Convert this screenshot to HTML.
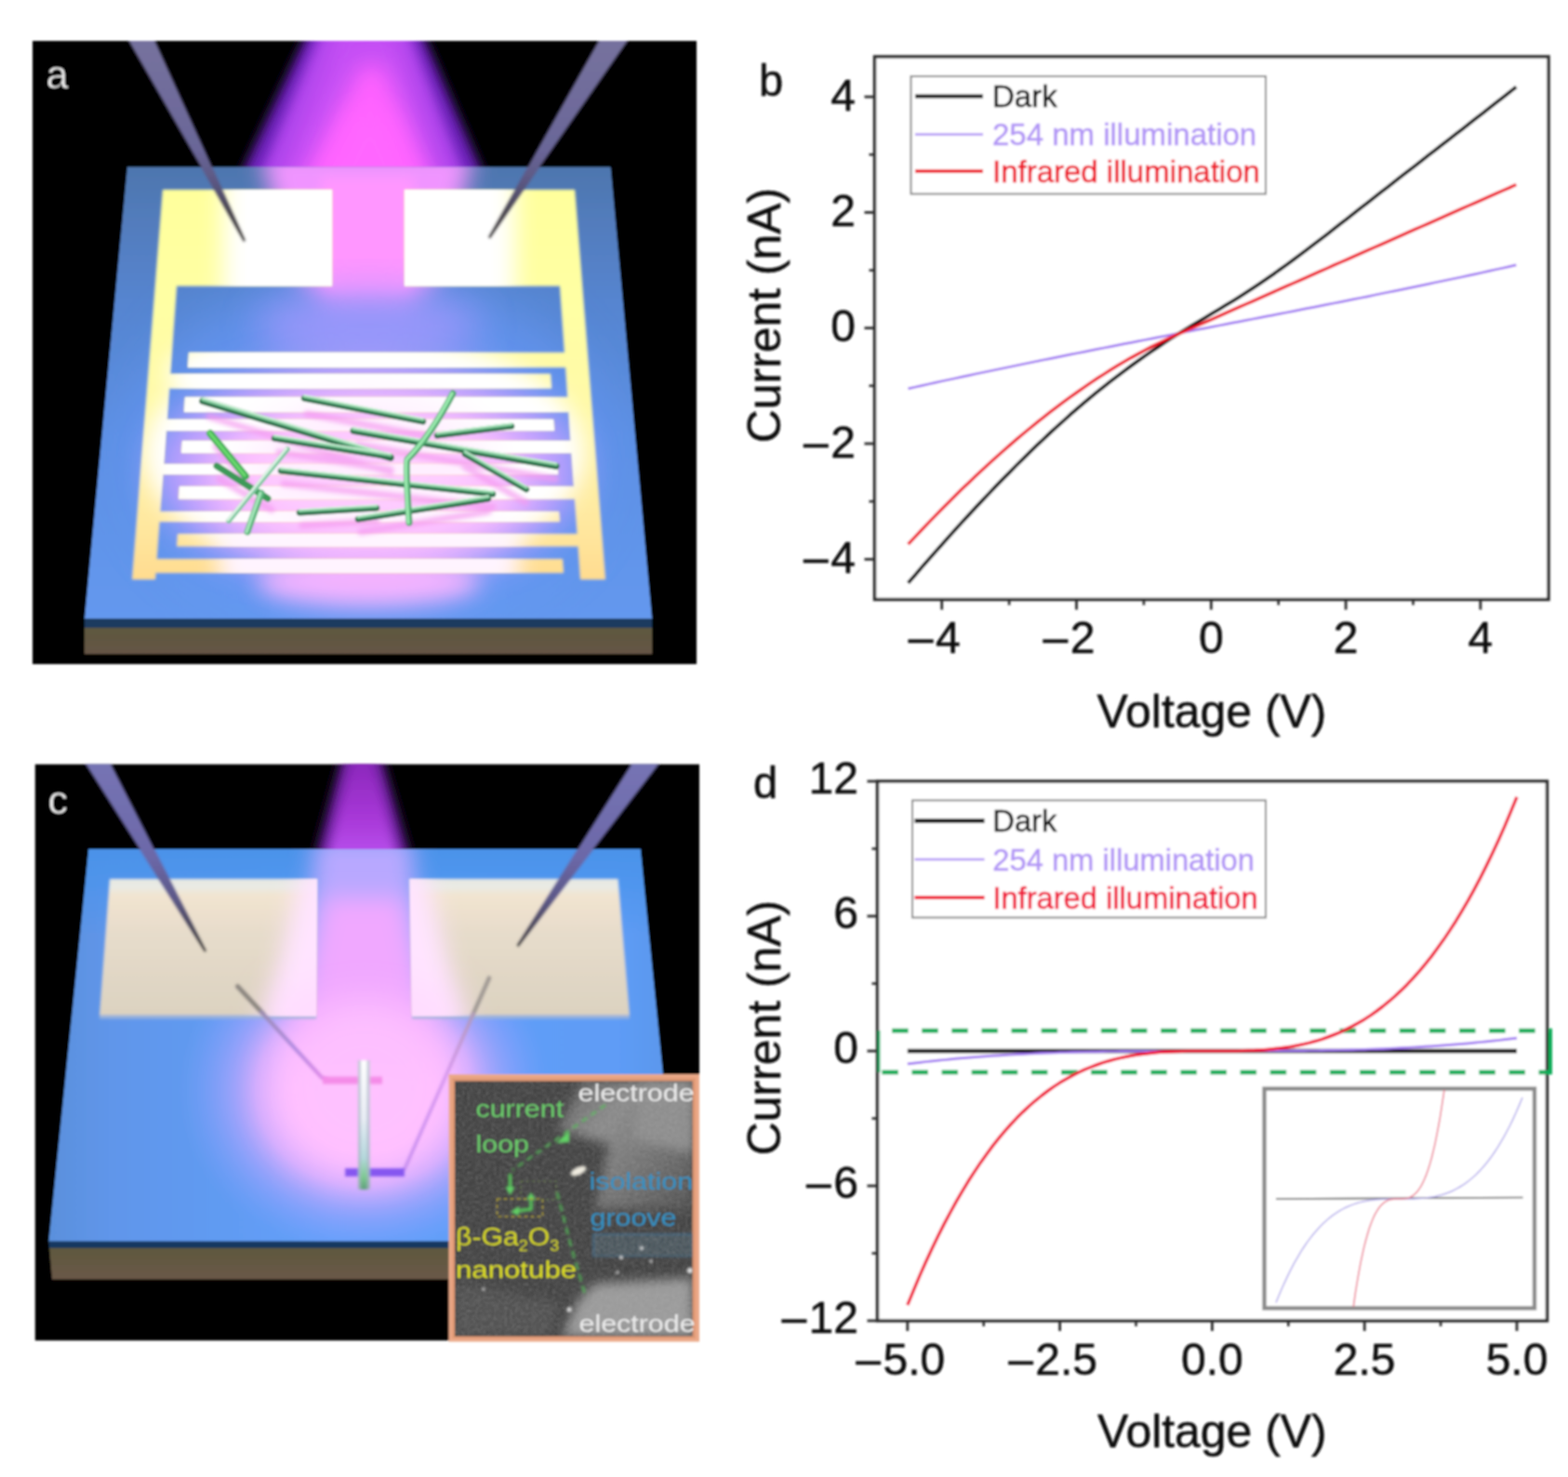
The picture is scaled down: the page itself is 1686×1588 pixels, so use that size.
<!DOCTYPE html>
<html lang="en"><head><meta charset="utf-8"><title>Figure</title>
<style>html,body{margin:0;padding:0;background:#fff;}svg{display:block;}text{font-family:"Liberation Sans", sans-serif;}</style>
</head><body>
<svg width="1686" height="1588" viewBox="0 0 1686 1588">
<defs>
<filter id="soft" x="-2%" y="-2%" width="104%" height="104%"><feGaussianBlur stdDeviation="1.1"/></filter>
<filter id="b2" x="-10%" y="-10%" width="120%" height="120%"><feGaussianBlur stdDeviation="2"/></filter>
<filter id="b1" x="-10%" y="-10%" width="120%" height="120%"><feGaussianBlur stdDeviation="1"/></filter>
<filter id="b6" x="-20%" y="-20%" width="140%" height="140%"><feGaussianBlur stdDeviation="6"/></filter>
<filter id="b12" x="-30%" y="-30%" width="160%" height="160%"><feGaussianBlur stdDeviation="12"/></filter>
<filter id="b20" x="-40%" y="-40%" width="180%" height="180%"><feGaussianBlur stdDeviation="20"/></filter>
<filter id="b30" x="-50%" y="-50%" width="200%" height="200%"><feGaussianBlur stdDeviation="30"/></filter>
<clipPath id="clipA"><rect x="35" y="44" width="714" height="670"/></clipPath>
<clipPath id="clipC"><rect x="37.5" y="821.5" width="714.5" height="620"/></clipPath>
<clipPath id="slabA"><polygon points="137,179.5 656.5,179.5 701,665 91,665"/></clipPath>
<clipPath id="slabC"><polygon points="95.5,913 688.5,913 731,1334.5 52.5,1334.5"/></clipPath>
<linearGradient id="slabAg" gradientUnits="userSpaceOnUse" x1="0" y1="179" x2="0" y2="665">
  <stop offset="0" stop-color="#4e76ae"/><stop offset="0.12" stop-color="#527cbc"/><stop offset="0.3" stop-color="#5685d0"/><stop offset="0.6" stop-color="#5d90e4"/><stop offset="1" stop-color="#6498ee"/>
</linearGradient>
<linearGradient id="slabAtop" gradientUnits="userSpaceOnUse" x1="91" y1="0" x2="701" y2="0">
  <stop offset="0" stop-color="#6a9cff" stop-opacity="0"/><stop offset="0.3" stop-color="#6a9cff" stop-opacity="0.5"/><stop offset="0.5" stop-color="#6a9cff" stop-opacity="0.6"/><stop offset="0.7" stop-color="#6a9cff" stop-opacity="0.5"/><stop offset="1" stop-color="#6a9cff" stop-opacity="0"/>
</linearGradient>
<linearGradient id="elecA" gradientUnits="userSpaceOnUse" x1="140" y1="0" x2="652" y2="0">
  <stop offset="0" stop-color="#ffe9a0"/><stop offset="0.07" stop-color="#ffffa4"/><stop offset="0.15" stop-color="#ffffb8"/><stop offset="0.24" stop-color="#ffffff"/>
  <stop offset="0.72" stop-color="#ffffff"/><stop offset="0.82" stop-color="#ffffb4"/><stop offset="0.92" stop-color="#ffffa0"/><stop offset="1" stop-color="#ffe48c"/>
</linearGradient>
<linearGradient id="fingA" gradientUnits="userSpaceOnUse" x1="140" y1="0" x2="652" y2="0">
  <stop offset="0" stop-color="#ffe9a0"/><stop offset="0.08" stop-color="#ffffc0"/><stop offset="0.14" stop-color="#ffffff"/>
  <stop offset="0.8" stop-color="#ffffff"/><stop offset="0.9" stop-color="#fffcc0"/><stop offset="1" stop-color="#ffe890"/>
</linearGradient>
<linearGradient id="barfade" gradientUnits="userSpaceOnUse" x1="0" y1="300" x2="0" y2="625">
  <stop offset="0" stop-color="#ffffa0" stop-opacity="0"/><stop offset="0.5" stop-color="#fff7b0" stop-opacity="0.3"/><stop offset="1" stop-color="#ffd98c" stop-opacity="0.9"/>
</linearGradient>
<linearGradient id="beamA" gradientUnits="userSpaceOnUse" x1="0" y1="44" x2="0" y2="200">
  <stop offset="0" stop-color="#c24cf0"/><stop offset="0.5" stop-color="#f45cff"/><stop offset="1" stop-color="#ff66ff"/>
</linearGradient>
<linearGradient id="probe" x1="0" y1="0" x2="0" y2="1">
  <stop offset="0" stop-color="#7a76b4"/><stop offset="0.55" stop-color="#6a66a0"/><stop offset="0.8" stop-color="#55506c"/><stop offset="1" stop-color="#3a3636"/>
</linearGradient>
<linearGradient id="brownA" x1="0" y1="0" x2="0" y2="1">
  <stop offset="0" stop-color="#5a5a3c"/><stop offset="1" stop-color="#665546"/>
</linearGradient>
<radialGradient id="glowPink" cx="0.5" cy="0.5" r="0.5">
  <stop offset="0" stop-color="#ffb0ff" stop-opacity="1"/><stop offset="0.45" stop-color="#f6a4ff" stop-opacity="0.9"/><stop offset="0.75" stop-color="#c89cff" stop-opacity="0.55"/><stop offset="1" stop-color="#8c96ff" stop-opacity="0"/>
</radialGradient>
<radialGradient id="glowWhite" cx="0.5" cy="0.5" r="0.5">
  <stop offset="0" stop-color="#ffffff" stop-opacity="1"/><stop offset="0.5" stop-color="#ffe8ff" stop-opacity="0.9"/><stop offset="1" stop-color="#ffc0ff" stop-opacity="0"/>
</radialGradient>
<linearGradient id="elecV" gradientUnits="userSpaceOnUse" x1="0" y1="204" x2="0" y2="623">
  <stop offset="0" stop-color="#ffff9c"/><stop offset="0.3" stop-color="#ffffa4"/><stop offset="0.6" stop-color="#fff8a8"/><stop offset="0.85" stop-color="#ffe8a0"/><stop offset="1" stop-color="#ffdc90"/>
</linearGradient>
<linearGradient id="probeA" gradientUnits="userSpaceOnUse" x1="0" y1="44" x2="0" y2="258">
  <stop offset="0" stop-color="#76729e"/><stop offset="0.55" stop-color="#6a6698"/><stop offset="0.72" stop-color="#5a5680"/><stop offset="0.85" stop-color="#4a4650"/><stop offset="1" stop-color="#3c3a38"/>
</linearGradient>
</defs>

<rect x="0" y="0" width="1686" height="1588" fill="#ffffff"/>
<g filter="url(#soft)">
<g id="panel-a" clip-path="url(#clipA)">
<rect x="35" y="44" width="714" height="670" fill="#000"/>
<polygon points="338,20 447,20 529,210 249,210" fill="#6a22b8" filter="url(#b6)"/>
<polygon points="352,20 433,20 508,210 270,210" fill="#a840e8" filter="url(#b6)"/>
<polygon points="362,20 424,20 488,210 292,210" fill="#c450f4" filter="url(#b12)"/>
<polygon points="388,70 412,70 470,210 318,210" fill="#ff62ff" filter="url(#b12)"/>
<polygon points="380,120 416,120 456,210 336,210" fill="#ff66ff" filter="url(#b12)"/>
<polygon points="91,665 701,665 701,703 91,703" fill="url(#brownA)"/>
<polygon points="91,664 701,664 701,675 91,675" fill="#1c3a5e"/>
<polygon points="137,179.5 656.5,179.5 701,665 91,665" fill="url(#slabAg)"/>
<g clip-path="url(#slabA)">
<ellipse cx="396" cy="480" rx="250" ry="190" fill="#6a9cff" opacity="0.55" filter="url(#b30)"/>
<polygon points="280,160 510,160 500,205 470,300 440,330 352,330 322,300 290,205" fill="#f094ff" filter="url(#b12)"/>
<polygon points="345,190 445,190 440,312 350,312" fill="#ff96ff" filter="url(#b6)"/>
<ellipse cx="396" cy="350" rx="120" ry="40" fill="#a898ff" opacity="0.75" filter="url(#b20)"/>
<ellipse cx="396" cy="505" rx="230" ry="120" fill="#c8a0ff" opacity="0.9" filter="url(#b20)"/>
<ellipse cx="396" cy="515" rx="175" ry="95" fill="#ffc0ff" opacity="0.95" filter="url(#b20)"/>
<ellipse cx="396" cy="510" rx="120" ry="60" fill="#ffd4ff" opacity="0.7" filter="url(#b20)"/>
<ellipse cx="396" cy="626" rx="120" ry="26" fill="#f8b4ff" opacity="0.95" filter="url(#b12)"/>
</g>
<clipPath id="elecClip"><polygon points="175,204 357,204 357,307.5 190.0,307.5 167.0,623 142.0,623"/><polygon points="435,204 618,204 651.0,623 624.0,623 602.0,307.5 435,307.5"/><polygon points="203.0,379.0 609.0,379.0 610.1,395.0 202.0,395.0"/><polygon points="199.0,427.0 612.3,427.0 613.4,443.0 198.0,443.0"/><polygon points="196.0,474.0 615.6,474.0 616.5,487.0 195.0,487.0"/><polygon points="193.0,523.0 619.0,523.0 620.0,536.5 192.0,536.5"/><polygon points="191.0,574.0 622.6,574.0 623.5,587.5 190.0,587.5"/><polygon points="181.1,402.0 592.0,402.0 593.0,417.5 180.0,417.5"/><polygon points="177.6,451.0 595.0,451.0 596.0,463.0 176.7,463.0"/><polygon points="174.1,499.0 599.0,499.0 600.0,510.0 173.3,510.0"/><polygon points="170.3,550.0 601.0,550.0 602.0,561.0 169.5,561.0"/><polygon points="166.6,601.0 605.0,601.0 606.0,616.0 165.5,616.0"/></clipPath>
<g filter="url(#b1)">
<polygon points="175,204 357,204 357,307.5 190.0,307.5 167.0,623 142.0,623" fill="url(#elecV)"/>
<polygon points="435,204 618,204 651.0,623 624.0,623 602.0,307.5 435,307.5" fill="url(#elecV)"/>
<polygon points="203.0,379.0 609.0,379.0 610.1,395.0 202.0,395.0" fill="url(#elecV)"/>
<polygon points="199.0,427.0 612.3,427.0 613.4,443.0 198.0,443.0" fill="url(#elecV)"/>
<polygon points="196.0,474.0 615.6,474.0 616.5,487.0 195.0,487.0" fill="url(#elecV)"/>
<polygon points="193.0,523.0 619.0,523.0 620.0,536.5 192.0,536.5" fill="url(#elecV)"/>
<polygon points="191.0,574.0 622.6,574.0 623.5,587.5 190.0,587.5" fill="url(#elecV)"/>
<polygon points="181.1,402.0 592.0,402.0 593.0,417.5 180.0,417.5" fill="url(#elecV)"/>
<polygon points="177.6,451.0 595.0,451.0 596.0,463.0 176.7,463.0" fill="url(#elecV)"/>
<polygon points="174.1,499.0 599.0,499.0 600.0,510.0 173.3,510.0" fill="url(#elecV)"/>
<polygon points="170.3,550.0 601.0,550.0 602.0,561.0 169.5,561.0" fill="url(#elecV)"/>
<polygon points="166.6,601.0 605.0,601.0 606.0,616.0 165.5,616.0" fill="url(#elecV)"/>
</g>
<g clip-path="url(#elecClip)">
<rect x="240" y="150" width="314" height="200" fill="#ffffff" filter="url(#b12)"/>
<ellipse cx="392" cy="488" rx="236" ry="128" fill="#ffffff" filter="url(#b12)"/>
<ellipse cx="290" cy="400" rx="110" ry="40" fill="#ffffff" filter="url(#b12)"/>
<ellipse cx="396" cy="500" rx="130" ry="75" fill="#ffdcff" opacity="0.45" filter="url(#b20)"/>
<rect x="236" y="566" width="322" height="70" fill="#fff4ff" filter="url(#b12)"/>
</g>
<g stroke="#f49af0" stroke-width="7" stroke-linecap="round" opacity="0.7" filter="url(#b2)">
<line x1="225" y1="448" x2="420" y2="508"/>
<line x1="330" y1="445" x2="455" y2="468"/>
<line x1="385" y1="478" x2="597" y2="515"/>
<line x1="300" y1="486" x2="420" y2="505"/>
<line x1="305" y1="520" x2="530" y2="545"/>
<line x1="325" y1="565" x2="405" y2="560"/>
<line x1="388" y1="572" x2="525" y2="550"/>
<line x1="500" y1="502" x2="565" y2="540"/>
<line x1="232" y1="480" x2="270" y2="525"/>
<line x1="236" y1="515" x2="292" y2="548"/>
</g>
<g stroke-linecap="round">
<line x1="218" y1="431.2" x2="420" y2="492.2" stroke="#2c6e4a" stroke-width="7.5"/>
<line x1="218" y1="429.2" x2="420" y2="490.2" stroke="#7cc898" stroke-width="4.1"/>
<line x1="218" y1="428.0" x2="420" y2="489.0" stroke="#d8f8e0" stroke-width="1.6"/>
<line x1="327" y1="428.2" x2="455" y2="453.2" stroke="#2c6e4a" stroke-width="6.5"/>
<line x1="327" y1="426.2" x2="455" y2="451.2" stroke="#7cc898" stroke-width="3.6"/>
<line x1="327" y1="425.0" x2="455" y2="450.0" stroke="#d8f8e0" stroke-width="1.4"/>
<line x1="380" y1="463.2" x2="598" y2="501.2" stroke="#2c6e4a" stroke-width="7.0"/>
<line x1="380" y1="461.2" x2="598" y2="499.2" stroke="#7cc898" stroke-width="3.9"/>
<line x1="380" y1="460.0" x2="598" y2="498.0" stroke="#d8f8e0" stroke-width="1.5"/>
<line x1="295" y1="471.2" x2="420" y2="491.2" stroke="#2c6e4a" stroke-width="6.5"/>
<line x1="295" y1="469.2" x2="420" y2="489.2" stroke="#7cc898" stroke-width="3.6"/>
<line x1="295" y1="468.0" x2="420" y2="488.0" stroke="#d8f8e0" stroke-width="1.4"/>
<line x1="470" y1="468.2" x2="550" y2="458.2" stroke="#2c6e4a" stroke-width="6.5"/>
<line x1="470" y1="466.2" x2="550" y2="456.2" stroke="#7cc898" stroke-width="3.6"/>
<line x1="470" y1="465.0" x2="550" y2="455.0" stroke="#d8f8e0" stroke-width="1.4"/>
<line x1="302" y1="506.2" x2="530" y2="531.2" stroke="#2c6e4a" stroke-width="6.5"/>
<line x1="302" y1="504.2" x2="530" y2="529.2" stroke="#7cc898" stroke-width="3.6"/>
<line x1="302" y1="503.0" x2="530" y2="528.0" stroke="#d8f8e0" stroke-width="1.4"/>
<line x1="322" y1="551.2" x2="405" y2="546.2" stroke="#2c6e4a" stroke-width="6.5"/>
<line x1="322" y1="549.2" x2="405" y2="544.2" stroke="#7cc898" stroke-width="3.6"/>
<line x1="322" y1="548.0" x2="405" y2="543.0" stroke="#d8f8e0" stroke-width="1.4"/>
<line x1="385" y1="558.2" x2="525" y2="536.2" stroke="#2c6e4a" stroke-width="6.5"/>
<line x1="385" y1="556.2" x2="525" y2="534.2" stroke="#7cc898" stroke-width="3.6"/>
<line x1="385" y1="555.0" x2="525" y2="533.0" stroke="#d8f8e0" stroke-width="1.4"/>
<line x1="500" y1="488.2" x2="566" y2="526.2" stroke="#2c6e4a" stroke-width="6.5"/>
<line x1="500" y1="486.2" x2="566" y2="524.2" stroke="#7cc898" stroke-width="3.6"/>
<line x1="500" y1="485.0" x2="566" y2="523.0" stroke="#d8f8e0" stroke-width="1.4"/>
<path d="M487 423 Q462 470 438 494 Q436 500 440 562" fill="none" stroke="#4fa870" stroke-width="7"/>
<path d="M486 423 Q461 470 437 494 Q435 500 439 562" fill="none" stroke="#9aeaae" stroke-width="3.5"/>
<line x1="226" y1="466" x2="264" y2="512" stroke="#3fae55" stroke-width="8"/>
<line x1="225" y1="465" x2="263" y2="511" stroke="#6ad86e" stroke-width="3.5"/>
<line x1="233" y1="501" x2="288" y2="536" stroke="#3c9a58" stroke-width="7"/>
<line x1="309" y1="483" x2="246" y2="560" stroke="#7fc8a0" stroke-width="5.5"/>
<line x1="308" y1="482" x2="245" y2="559" stroke="#dff5e6" stroke-width="2.5"/>
<line x1="281" y1="530" x2="266" y2="572" stroke="#58b47a" stroke-width="7"/>
<line x1="280" y1="530" x2="265" y2="572" stroke="#a8e8bc" stroke-width="3"/>
</g>
<polygon points="135,38 164,38 264,258.5 262,260" fill="url(#probeA)" filter="url(#b1)"/>
<polygon points="647,38 679,38 527,256.5 525,255" fill="url(#probeA)" filter="url(#b1)"/>
<text x="49.5" y="95" font-size="43" fill="#f0f0f0" stroke="#000" stroke-width="0.7">a</text>
</g>
<defs>
<linearGradient id="slabCg" gradientUnits="userSpaceOnUse" x1="52" y1="0" x2="731" y2="0">
  <stop offset="0" stop-color="#5a90dc"/><stop offset="0.1" stop-color="#6096ea"/><stop offset="0.45" stop-color="#63a0fa"/><stop offset="0.9" stop-color="#5e9cf6"/><stop offset="1" stop-color="#5a96ea"/>
</linearGradient>
<linearGradient id="slabCtop" gradientUnits="userSpaceOnUse" x1="0" y1="913" x2="0" y2="1010">
  <stop offset="0" stop-color="#4a92e8" stop-opacity="0.95"/><stop offset="0.4" stop-color="#4a94ec" stop-opacity="0.7"/><stop offset="1" stop-color="#4f96f0" stop-opacity="0"/>
</linearGradient>
<linearGradient id="padC" x1="0" y1="0" x2="0" y2="1">
  <stop offset="0" stop-color="#e6e8e2"/><stop offset="0.06" stop-color="#e9eae4"/><stop offset="0.12" stop-color="#f2e4d0"/><stop offset="0.4" stop-color="#e6dccb"/><stop offset="1" stop-color="#dcd2c0"/>
</linearGradient>
<linearGradient id="brownC" x1="0" y1="0" x2="0" y2="1">
  <stop offset="0" stop-color="#5c5a3c"/><stop offset="1" stop-color="#6a5848"/>
</linearGradient>
<linearGradient id="beamC" gradientUnits="userSpaceOnUse" x1="0" y1="821" x2="0" y2="920">
  <stop offset="0" stop-color="#8c28bc"/><stop offset="0.6" stop-color="#a838d8"/><stop offset="1" stop-color="#b850ec"/>
</linearGradient>
<linearGradient id="tubeC" gradientUnits="userSpaceOnUse" x1="0" y1="1140" x2="0" y2="1280">
  <stop offset="0" stop-color="#ffffff"/><stop offset="0.45" stop-color="#e8ecf4"/><stop offset="0.75" stop-color="#b4d8dc"/><stop offset="0.9" stop-color="#7cc890"/><stop offset="1" stop-color="#5a9a78"/>
</linearGradient>
<linearGradient id="semTR" gradientUnits="userSpaceOnUse" x1="600" y1="1163" x2="744" y2="1290">
  <stop offset="0" stop-color="#5a5a5a"/><stop offset="0.35" stop-color="#8a8a8a"/><stop offset="0.7" stop-color="#6c6c6c"/><stop offset="1" stop-color="#505050"/>
</linearGradient>
<filter id="noise" x="0" y="0" width="100%" height="100%">
  <feTurbulence type="fractalNoise" baseFrequency="0.35" numOctaves="2" seed="3" result="n"/>
  <feColorMatrix in="n" type="matrix" values="0 0 0 0 0.5  0 0 0 0 0.5  0 0 0 0 0.5  0.9 0.9 0 0 -0.62" result="m"/>
  <feComposite in="m" in2="SourceGraphic" operator="in"/>
</filter>
<clipPath id="semclip"><rect x="489" y="1162.5" width="255.5" height="274"/></clipPath>
<linearGradient id="wireL" gradientUnits="userSpaceOnUse" x1="281" y1="1088" x2="350" y2="1160"><stop offset="0" stop-color="#9a8cb0"/><stop offset="0.5" stop-color="#b08ae0"/><stop offset="1" stop-color="#e08ae8"/></linearGradient>
<linearGradient id="wireR" gradientUnits="userSpaceOnUse" x1="509" y1="1090" x2="435" y2="1257"><stop offset="0" stop-color="#b09ab8"/><stop offset="0.4" stop-color="#d898f0"/><stop offset="1" stop-color="#c890f0"/></linearGradient>
<radialGradient id="glowC" cx="0.5" cy="0.5" r="0.5"><stop offset="0" stop-color="#ffc2ff" stop-opacity="1"/><stop offset="0.38" stop-color="#fcb6ff" stop-opacity="1"/><stop offset="0.58" stop-color="#e0acff" stop-opacity="0.85"/><stop offset="0.78" stop-color="#a8a4ff" stop-opacity="0.5"/><stop offset="1" stop-color="#7ca0ff" stop-opacity="0"/></radialGradient>
<linearGradient id="probeC" gradientUnits="userSpaceOnUse" x1="0" y1="821" x2="0" y2="1022"><stop offset="0" stop-color="#7674b4"/><stop offset="0.5" stop-color="#6c68a8"/><stop offset="0.72" stop-color="#5c5888"/><stop offset="0.88" stop-color="#4a4658"/><stop offset="1" stop-color="#3a3834"/></linearGradient>
</defs>
<g id="panel-c" clip-path="url(#clipC)">
<rect x="37.5" y="821.5" width="714.5" height="620" fill="#000"/>
<polygon points="372,800 406,800 442,925 338,925" fill="#641a94" filter="url(#b6)"/>
<polygon points="380,800 398,800 430,925 350,925" fill="url(#beamC)" filter="url(#b6)"/>
<polygon points="52.5,1334 731,1334 731,1375.5 56,1375.5" fill="url(#brownC)"/>
<polygon points="52.5,1333.5 731,1333.5 731,1341.8 53,1341.8" fill="#163860"/>
<polygon points="95.5,913 688.5,913 731,1334.5 52.5,1334.5" fill="url(#slabCg)"/>
<g clip-path="url(#slabC)">
<rect x="40" y="913" width="700" height="90" fill="url(#slabCtop)"/>
<ellipse cx="392" cy="1172" rx="200" ry="178" fill="url(#glowC)"/>
<polygon points="340,900 442,900 458,1080 322,1080" fill="#b8a8ff" filter="url(#b12)"/>
<polygon points="350,965 432,965 470,1150 312,1150" fill="#f0a8ff" filter="url(#b12)"/>
<ellipse cx="392" cy="1170" rx="100" ry="95" fill="#ffc2ff" opacity="0.9" filter="url(#b20)"/>
</g>
<g filter="url(#b1)">
<polygon points="118,945 341,945 340,1092.5 107,1092.5" fill="url(#padC)"/>
<polygon points="440.5,945 664.5,945 677,1092.5 443,1092.5" fill="url(#padC)"/>
<polygon points="107,1091 340,1091 340,1095.5 107,1095.5" fill="#9fb4d8" opacity="0.8"/>
<polygon points="443,1091 677,1091 677,1095.5 443,1095.5" fill="#9fb4d8" opacity="0.8"/>
</g>
<clipPath id="padsC"><polygon points="118,945 341,945 340,1092.5 107,1092.5"/><polygon points="440.5,945 664.5,945 677,1092.5 443,1092.5"/></clipPath>
<g clip-path="url(#padsC)">
<polygon points="326,930 456,930 500,1110 282,1110" fill="#ffe4ff" filter="url(#b12)"/>
<ellipse cx="392" cy="1095" rx="100" ry="45" fill="#ffdcff" filter="url(#b20)"/>
</g>
<g fill="none" stroke-linecap="round" filter="url(#b1)">
<path d="M255.5 1060.5 L283 1090" stroke="#8c8680" stroke-width="5"/>
<path d="M281 1088 L346 1158.5 L352 1161" stroke="url(#wireL)" stroke-width="4.2"/>
<path d="M526 1051.5 L508 1092" stroke="#a09a94" stroke-width="4.6"/>
<path d="M509 1090 L435 1257" stroke="url(#wireR)" stroke-width="3.8"/>
</g>
<g filter="url(#b1)">
<rect x="347" y="1157.5" width="64" height="8" fill="#f48ce8"/>
<rect x="371" y="1256" width="64" height="9" fill="#8656f0"/>
<rect x="385" y="1140" width="12.5" height="139" rx="3" fill="url(#tubeC)"/>
<rect x="385" y="1140" width="3" height="139" fill="#a8b4c4" opacity="0.7"/>
<rect x="394.5" y="1140" width="3" height="139" fill="#a8b4c4" opacity="0.7"/>
</g>
<polygon points="88,815 116,815 222,1022.5 220,1023.5" fill="url(#probeC)" filter="url(#b1)"/>
<polygon points="683,815 713.5,815 557.5,1018 555.5,1016.5" fill="url(#probeC)" filter="url(#b1)"/>
<text x="51.5" y="875.3" font-size="43" fill="#f0f0f0" stroke="#000" stroke-width="0.7">c</text>
</g>
<g id="sem-inset">
<rect x="482.5" y="1155" width="269.5" height="287.5" fill="#eba988"/>
<rect x="486" y="1159" width="262" height="280" fill="#d98f68" opacity="0.6"/>
<rect x="489" y="1162.5" width="255.5" height="274" fill="#3e3e3e"/>
<g clip-path="url(#semclip)">
<polygon points="625,1163 745,1163 745,1300 640,1300 655,1230 600,1215" fill="url(#semTR)" filter="url(#b6)"/>
<polygon points="690,1163 745,1163 745,1240 680,1225" fill="#8c8c8c" filter="url(#b6)"/>
<polygon points="638,1327 745,1327 745,1351 638,1351" fill="#46525a" stroke="#3a6a8a" stroke-width="1.5" filter="url(#b1)"/>
<polygon points="636,1352 745,1352 745,1375 650,1375" fill="#3c3c3c" filter="url(#b2)"/>
<polygon points="640,1380 745,1374 745,1437 604,1437 622,1398" fill="#9a9a9a" filter="url(#b6)"/>
<polygon points="489,1380 600,1400 590,1437 489,1437" fill="#4e4e4e" filter="url(#b6)"/>
<rect x="489" y="1162.5" width="255.5" height="274" fill="#fff" filter="url(#noise)" opacity="0.4"/>
<ellipse cx="622" cy="1259" rx="9" ry="4" transform="rotate(-25 622 1259)" fill="#f0ece0" filter="url(#b1)"/>
<g fill="#e8e8e8" filter="url(#b1)"><circle cx="668" cy="1352" r="2"/><circle cx="700" cy="1356" r="1.6"/><circle cx="664" cy="1368" r="1.6"/><circle cx="690" cy="1342" r="2"/><circle cx="742" cy="1366" r="3"/><circle cx="520" cy="1386" r="1.5"/><circle cx="612" cy="1408" r="2.5"/></g>
<g fill="none" stroke="#56c45a" stroke-width="2.4" filter="url(#b1)">
<path d="M651 1188 L551 1258" stroke-dasharray="7 5" opacity="0.8"/>
<path d="M599 1282 L614 1340 L630 1395" stroke-dasharray="8 5" opacity="0.85"/>
<path d="M548.5 1262 L548.5 1278" stroke-width="3.4"/>
<path d="M571 1288 L571 1300 L556 1302" stroke-width="3.4"/>
</g>
<g fill="#62d466" filter="url(#b1)"><polygon points="598,1229 612,1216 612,1228"/><polygon points="543.5,1276 553.5,1276 548.5,1285"/><polygon points="566,1290 576,1290 571,1282"/><polygon points="558,1297 558,1307 549,1303"/></g>
<rect x="534.5" y="1289" width="49" height="19" fill="none" stroke="#b0a030" stroke-width="1.4" stroke-dasharray="4 3" opacity="0.9"/>
<rect x="560" y="1270" width="38" height="20" fill="none" stroke="#7a9a50" stroke-width="1.2" stroke-dasharray="3 3" opacity="0.6"/>
</g>
<text transform="translate(621.5,1183.5) scale(1.170,1)" font-size="26" fill="#ececec" >electrode</text>
<text transform="translate(511.5,1200.5) scale(1.170,1)" font-size="26" fill="#6ccc6c" >current</text>
<text transform="translate(511.5,1238.5) scale(1.170,1)" font-size="26" fill="#6ccc6c" >loop</text>
<text transform="translate(633.5,1279.0) scale(1.170,1)" font-size="26" fill="#3392c4" >isolation</text>
<text transform="translate(634.5,1318.0) scale(1.170,1)" font-size="26" fill="#3392c4" >groove</text>
<text transform="translate(490.0,1338.5) scale(1.120,1)" font-size="27" fill="#d6d624" >β-Ga<tspan font-size="16" dy="6">2</tspan><tspan dy="-6">O</tspan><tspan font-size="16" dy="6">3</tspan></text>
<text transform="translate(490.0,1373.5) scale(1.200,1)" font-size="26" fill="#dede20" >nanotube</text>
<text transform="translate(622.5,1432.0) scale(1.170,1)" font-size="26" fill="#ececec" >electrode</text>
</g>
<g id="plot-b">
<rect x="940.5" y="61.0" width="724.5" height="583.5" fill="#fff" stroke="#2e2e2e" stroke-width="3.5"/>
<line x1="1012.7" y1="644.5" x2="1012.7" y2="655.5" stroke="#2e2e2e" stroke-width="2.8"/>
<text transform="translate(1004.7,702.3)" font-size="48" text-anchor="middle" fill="#111111" stroke="#111111" stroke-width="0.5">–<tspan dx="2.5">4</tspan></text>
<line x1="1157.5" y1="644.5" x2="1157.5" y2="655.5" stroke="#2e2e2e" stroke-width="2.8"/>
<text transform="translate(1149.5,702.3)" font-size="48" text-anchor="middle" fill="#111111" stroke="#111111" stroke-width="0.5">–<tspan dx="2.5">2</tspan></text>
<line x1="1302.3" y1="644.5" x2="1302.3" y2="655.5" stroke="#2e2e2e" stroke-width="2.8"/>
<text transform="translate(1302.3,702.3)" font-size="48" text-anchor="middle" fill="#111111" stroke="#111111" stroke-width="0.5">0</text>
<line x1="1447.1" y1="644.5" x2="1447.1" y2="655.5" stroke="#2e2e2e" stroke-width="2.8"/>
<text transform="translate(1447.1,702.3)" font-size="48" text-anchor="middle" fill="#111111" stroke="#111111" stroke-width="0.5">2</text>
<line x1="1591.9" y1="644.5" x2="1591.9" y2="655.5" stroke="#2e2e2e" stroke-width="2.8"/>
<text transform="translate(1591.9,702.3)" font-size="48" text-anchor="middle" fill="#111111" stroke="#111111" stroke-width="0.5">4</text>
<line x1="1085.1" y1="644.5" x2="1085.1" y2="650.5" stroke="#2e2e2e" stroke-width="2.6"/>
<line x1="1229.9" y1="644.5" x2="1229.9" y2="650.5" stroke="#2e2e2e" stroke-width="2.6"/>
<line x1="1374.7" y1="644.5" x2="1374.7" y2="650.5" stroke="#2e2e2e" stroke-width="2.6"/>
<line x1="1519.5" y1="644.5" x2="1519.5" y2="650.5" stroke="#2e2e2e" stroke-width="2.6"/>
<line x1="929.5" y1="601.3" x2="940.5" y2="601.3" stroke="#2e2e2e" stroke-width="2.8"/>
<text transform="translate(920.0,615.8)" font-size="48" text-anchor="end" fill="#111111" stroke="#111111" stroke-width="0.5">–<tspan dx="2.5">4</tspan></text>
<line x1="929.5" y1="477.0" x2="940.5" y2="477.0" stroke="#2e2e2e" stroke-width="2.8"/>
<text transform="translate(920.0,491.5)" font-size="48" text-anchor="end" fill="#111111" stroke="#111111" stroke-width="0.5">–<tspan dx="2.5">2</tspan></text>
<line x1="929.5" y1="352.7" x2="940.5" y2="352.7" stroke="#2e2e2e" stroke-width="2.8"/>
<text transform="translate(920.0,367.2)" font-size="48" text-anchor="end" fill="#111111" stroke="#111111" stroke-width="0.5">0</text>
<line x1="929.5" y1="228.4" x2="940.5" y2="228.4" stroke="#2e2e2e" stroke-width="2.8"/>
<text transform="translate(920.0,242.9)" font-size="48" text-anchor="end" fill="#111111" stroke="#111111" stroke-width="0.5">2</text>
<line x1="929.5" y1="104.1" x2="940.5" y2="104.1" stroke="#2e2e2e" stroke-width="2.8"/>
<text transform="translate(920.0,118.6)" font-size="48" text-anchor="end" fill="#111111" stroke="#111111" stroke-width="0.5">4</text>
<line x1="934.5" y1="539.1" x2="940.5" y2="539.1" stroke="#2e2e2e" stroke-width="2.6"/>
<line x1="934.5" y1="414.8" x2="940.5" y2="414.8" stroke="#2e2e2e" stroke-width="2.6"/>
<line x1="934.5" y1="290.6" x2="940.5" y2="290.6" stroke="#2e2e2e" stroke-width="2.6"/>
<line x1="934.5" y1="166.2" x2="940.5" y2="166.2" stroke="#2e2e2e" stroke-width="2.6"/>
<path d="M976.5 417.9 L983.8 416.2 L991.0 414.6 L998.3 413.0 L1005.6 411.4 L1012.8 409.8 L1020.1 408.3 L1027.3 406.7 L1034.6 405.1 L1041.9 403.6 L1049.1 402.0 L1056.4 400.5 L1063.7 399.0 L1070.9 397.5 L1078.2 396.0 L1085.5 394.5 L1092.7 393.0 L1100.0 391.5 L1107.3 390.0 L1114.5 388.5 L1121.8 387.0 L1129.0 385.6 L1136.3 384.1 L1143.6 382.6 L1150.8 381.2 L1158.1 379.7 L1165.4 378.3 L1172.6 376.9 L1179.9 375.4 L1187.2 374.0 L1194.4 372.6 L1201.7 371.1 L1209.0 369.7 L1216.2 368.3 L1223.5 366.9 L1230.7 365.5 L1238.0 364.1 L1245.3 362.7 L1252.5 361.2 L1259.8 359.8 L1267.1 358.4 L1274.3 357.0 L1281.6 355.6 L1288.9 354.2 L1296.1 352.8 L1303.4 351.4 L1310.7 350.0 L1317.9 348.6 L1325.2 347.2 L1332.4 345.8 L1339.7 344.4 L1347.0 343.0 L1354.2 341.6 L1361.5 340.2 L1368.8 338.8 L1376.0 337.4 L1383.3 336.0 L1390.6 334.6 L1397.8 333.1 L1405.1 331.7 L1412.3 330.3 L1419.6 328.9 L1426.9 327.4 L1434.1 326.0 L1441.4 324.6 L1448.7 323.1 L1455.9 321.7 L1463.2 320.2 L1470.5 318.8 L1477.7 317.3 L1485.0 315.8 L1492.3 314.3 L1499.5 312.9 L1506.8 311.4 L1514.0 309.9 L1521.3 308.4 L1528.6 306.9 L1535.8 305.4 L1543.1 303.8 L1550.4 302.3 L1557.6 300.8 L1564.9 299.2 L1572.2 297.7 L1579.4 296.1 L1586.7 294.6 L1594.0 293.0 L1601.2 291.4 L1608.5 289.8 L1615.7 288.2 L1623.0 286.6 L1630.3 284.9" fill="none" stroke="#a27af2" stroke-width="2.7" stroke-linejoin="round" />
<path d="M976.5 626.8 L983.8 618.4 L991.0 610.1 L998.3 601.8 L1005.6 593.6 L1012.8 585.4 L1020.1 577.3 L1027.3 569.3 L1034.6 561.3 L1041.9 553.4 L1049.1 545.6 L1056.4 537.9 L1063.7 530.2 L1070.9 522.6 L1078.2 515.2 L1085.5 507.8 L1092.7 500.5 L1100.0 493.3 L1107.3 486.2 L1114.5 479.2 L1121.8 472.3 L1129.0 465.5 L1136.3 458.8 L1143.6 452.3 L1150.8 445.8 L1158.1 439.5 L1165.4 433.3 L1172.6 427.2 L1179.9 421.3 L1187.2 415.5 L1194.4 409.8 L1201.7 404.2 L1209.0 398.7 L1216.2 393.4 L1223.5 388.1 L1230.7 383.0 L1238.0 378.0 L1245.3 373.1 L1252.5 368.2 L1259.8 363.5 L1267.1 358.9 L1274.3 354.4 L1281.6 350.0 L1288.9 345.6 L1296.1 341.3 L1303.4 336.9 L1310.7 332.6 L1317.9 328.2 L1325.2 323.8 L1332.4 319.3 L1339.7 314.6 L1347.0 309.9 L1354.2 305.1 L1361.5 300.1 L1368.8 295.1 L1376.0 289.9 L1383.3 284.7 L1390.6 279.4 L1397.8 274.0 L1405.1 268.5 L1412.3 263.0 L1419.6 257.5 L1426.9 251.9 L1434.1 246.2 L1441.4 240.6 L1448.7 234.9 L1455.9 229.2 L1463.2 223.5 L1470.5 217.9 L1477.7 212.2 L1485.0 206.5 L1492.3 200.9 L1499.5 195.3 L1506.8 189.6 L1514.0 184.0 L1521.3 178.4 L1528.6 172.7 L1535.8 167.1 L1543.1 161.5 L1550.4 155.8 L1557.6 150.2 L1564.9 144.6 L1572.2 138.9 L1579.4 133.3 L1586.7 127.6 L1594.0 122.0 L1601.2 116.3 L1608.5 110.6 L1615.7 104.9 L1623.0 99.2 L1630.3 93.5" fill="none" stroke="#000000" stroke-width="3.8" stroke-linejoin="round" />
<path d="M976.5 585.1 L983.8 577.4 L991.0 569.7 L998.3 562.1 L1005.6 554.6 L1012.8 547.2 L1020.1 539.9 L1027.3 532.7 L1034.6 525.6 L1041.9 518.7 L1049.1 511.8 L1056.4 505.0 L1063.7 498.3 L1070.9 491.7 L1078.2 485.3 L1085.5 478.9 L1092.7 472.7 L1100.0 466.5 L1107.3 460.5 L1114.5 454.6 L1121.8 448.8 L1129.0 443.2 L1136.3 437.6 L1143.6 432.2 L1150.8 426.9 L1158.1 421.7 L1165.4 416.6 L1172.6 411.6 L1179.9 406.8 L1187.2 402.1 L1194.4 397.6 L1201.7 393.1 L1209.0 388.8 L1216.2 384.6 L1223.5 380.6 L1230.7 376.7 L1238.0 372.9 L1245.3 369.2 L1252.5 365.7 L1259.8 362.3 L1267.1 359.1 L1274.3 355.9 L1281.6 352.7 L1288.9 349.5 L1296.1 346.3 L1303.4 343.1 L1310.7 339.8 L1317.9 336.6 L1325.2 333.4 L1332.4 330.2 L1339.7 327.0 L1347.0 323.8 L1354.2 320.6 L1361.5 317.4 L1368.8 314.2 L1376.0 310.9 L1383.3 307.7 L1390.6 304.5 L1397.8 301.3 L1405.1 298.1 L1412.3 294.9 L1419.6 291.7 L1426.9 288.5 L1434.1 285.2 L1441.4 282.0 L1448.7 278.8 L1455.9 275.6 L1463.2 272.4 L1470.5 269.2 L1477.7 266.0 L1485.0 262.8 L1492.3 259.6 L1499.5 256.3 L1506.8 253.1 L1514.0 249.9 L1521.3 246.7 L1528.6 243.5 L1535.8 240.3 L1543.1 237.1 L1550.4 233.9 L1557.6 230.7 L1564.9 227.4 L1572.2 224.2 L1579.4 221.0 L1586.7 217.8 L1594.0 214.6 L1601.2 211.4 L1608.5 208.2 L1615.7 205.0 L1623.0 201.8 L1630.3 198.5" fill="none" stroke="#ee1428" stroke-width="3.5" stroke-linejoin="round" />
<rect x="979.5" y="82" width="381.5" height="126.5" fill="#fff" stroke="#808080" stroke-width="1.9"/>
<line x1="984" y1="103.5" x2="1057" y2="103.5" stroke="#000000" stroke-width="4.0"/>
<text transform="translate(1067.0,115.0) scale(1.000,1.030)" font-size="33" text-anchor="start" fill="#111111" stroke="#111111" stroke-width="0.5">Dark</text>
<line x1="984" y1="144.5" x2="1057" y2="144.5" stroke="#b296f6" stroke-width="2.6"/>
<text transform="translate(1067.0,156.0) scale(1.000,1.030)" font-size="33" text-anchor="start" fill="#b296f6" stroke="#b296f6" stroke-width="0.5">254 nm illumination</text>
<line x1="984" y1="184.0" x2="1057" y2="184.0" stroke="#ee1428" stroke-width="4.0"/>
<text transform="translate(1067.0,195.5) scale(1.000,1.030)" font-size="33" text-anchor="start" fill="#ee1428" stroke="#ee1428" stroke-width="0.5">Infrared illumination</text>
<text transform="translate(1303.0,782.0) scale(1.000,0.985)" font-size="49.9" text-anchor="middle" fill="#111111" stroke="#111111" stroke-width="0.5">Voltage (V)</text>
<text transform="translate(839.0,339.0) rotate(-90) scale(1.000,0.985)" font-size="49.9" text-anchor="middle" fill="#111111" stroke="#111111" stroke-width="0.5">Current (nA)</text>
<text transform="translate(816.0,103.0) scale(1.000,1.030)" font-size="47" text-anchor="start" fill="#111111" stroke="#111111" stroke-width="0.5">b</text>
</g>
<g id="plot-d">
<rect x="943.5" y="840.0" width="720.0" height="580.0" fill="#fff" stroke="#2e2e2e" stroke-width="3.5"/>
<line x1="975.8" y1="1420.0" x2="975.8" y2="1431.0" stroke="#2e2e2e" stroke-width="2.8"/>
<text transform="translate(968.3,1478.0)" font-size="48" text-anchor="middle" fill="#111111" stroke="#111111" stroke-width="0.5">–<tspan dx="2.5">5.0</tspan></text>
<line x1="1139.6" y1="1420.0" x2="1139.6" y2="1431.0" stroke="#2e2e2e" stroke-width="2.8"/>
<text transform="translate(1132.1,1478.0)" font-size="48" text-anchor="middle" fill="#111111" stroke="#111111" stroke-width="0.5">–<tspan dx="2.5">2.5</tspan></text>
<line x1="1303.4" y1="1420.0" x2="1303.4" y2="1431.0" stroke="#2e2e2e" stroke-width="2.8"/>
<text transform="translate(1303.4,1478.0)" font-size="48" text-anchor="middle" fill="#111111" stroke="#111111" stroke-width="0.5">0.0</text>
<line x1="1467.2" y1="1420.0" x2="1467.2" y2="1431.0" stroke="#2e2e2e" stroke-width="2.8"/>
<text transform="translate(1467.2,1478.0)" font-size="48" text-anchor="middle" fill="#111111" stroke="#111111" stroke-width="0.5">2.5</text>
<line x1="1631.0" y1="1420.0" x2="1631.0" y2="1431.0" stroke="#2e2e2e" stroke-width="2.8"/>
<text transform="translate(1631.0,1478.0)" font-size="48" text-anchor="middle" fill="#111111" stroke="#111111" stroke-width="0.5">5.0</text>
<line x1="1057.7" y1="1420.0" x2="1057.7" y2="1426.0" stroke="#2e2e2e" stroke-width="2.6"/>
<line x1="1221.5" y1="1420.0" x2="1221.5" y2="1426.0" stroke="#2e2e2e" stroke-width="2.6"/>
<line x1="1385.3" y1="1420.0" x2="1385.3" y2="1426.0" stroke="#2e2e2e" stroke-width="2.6"/>
<line x1="1549.1" y1="1420.0" x2="1549.1" y2="1426.0" stroke="#2e2e2e" stroke-width="2.6"/>
<line x1="932.5" y1="1420.0" x2="943.5" y2="1420.0" stroke="#2e2e2e" stroke-width="2.8"/>
<text transform="translate(923.0,1432.7)" font-size="48" text-anchor="end" fill="#111111" stroke="#111111" stroke-width="0.5">–<tspan dx="2.5">12</tspan></text>
<line x1="932.5" y1="1275.0" x2="943.5" y2="1275.0" stroke="#2e2e2e" stroke-width="2.8"/>
<text transform="translate(923.0,1287.7)" font-size="48" text-anchor="end" fill="#111111" stroke="#111111" stroke-width="0.5">–<tspan dx="2.5">6</tspan></text>
<line x1="932.5" y1="1130.0" x2="943.5" y2="1130.0" stroke="#2e2e2e" stroke-width="2.8"/>
<text transform="translate(923.0,1142.7)" font-size="48" text-anchor="end" fill="#111111" stroke="#111111" stroke-width="0.5">0</text>
<line x1="932.5" y1="985.0" x2="943.5" y2="985.0" stroke="#2e2e2e" stroke-width="2.8"/>
<text transform="translate(923.0,997.7)" font-size="48" text-anchor="end" fill="#111111" stroke="#111111" stroke-width="0.5">6</text>
<line x1="932.5" y1="840.0" x2="943.5" y2="840.0" stroke="#2e2e2e" stroke-width="2.8"/>
<text transform="translate(923.0,852.7)" font-size="48" text-anchor="end" fill="#111111" stroke="#111111" stroke-width="0.5">12</text>
<line x1="937.5" y1="1347.5" x2="943.5" y2="1347.5" stroke="#2e2e2e" stroke-width="2.6"/>
<line x1="937.5" y1="1202.5" x2="943.5" y2="1202.5" stroke="#2e2e2e" stroke-width="2.6"/>
<line x1="937.5" y1="1057.5" x2="943.5" y2="1057.5" stroke="#2e2e2e" stroke-width="2.6"/>
<line x1="937.5" y1="912.5" x2="943.5" y2="912.5" stroke="#2e2e2e" stroke-width="2.6"/>
<line x1="946" y1="1108.2" x2="1669" y2="1108.2" stroke="#0cac58" stroke-width="4.8" stroke-dasharray="17.5 14.6" stroke-dashoffset="19.0"/>
<line x1="946" y1="1152.8" x2="1669" y2="1152.8" stroke="#0cac58" stroke-width="4.8" stroke-dasharray="17.5 14.6" stroke-dashoffset="29.7"/>
<line x1="1667" y1="1110" x2="1667" y2="1152" stroke="#0cac58" stroke-width="4"/>
<line x1="945" y1="1108" x2="945" y2="1153" stroke="#0cac58" stroke-width="3" opacity="0.8"/>
<path d="M975.8 1130.0 L1631.0 1130.0" fill="none" stroke="#111111" stroke-width="4.4" stroke-linejoin="round" />
<path d="M975.8 1143.9 L982.4 1143.1 L988.9 1142.3 L995.5 1141.5 L1002.0 1140.8 L1008.6 1140.1 L1015.1 1139.5 L1021.7 1138.8 L1028.2 1138.2 L1034.8 1137.7 L1041.3 1137.1 L1047.9 1136.6 L1054.4 1136.1 L1061.0 1135.6 L1067.5 1135.2 L1074.1 1134.8 L1080.6 1134.4 L1087.2 1134.0 L1093.7 1133.6 L1100.3 1133.3 L1106.8 1133.0 L1113.4 1132.7 L1119.9 1132.4 L1126.5 1132.2 L1133.0 1132.0 L1139.6 1131.7 L1146.2 1131.5 L1152.7 1131.4 L1159.3 1131.2 L1165.8 1131.0 L1172.4 1130.9 L1178.9 1130.8 L1185.5 1130.6 L1192.0 1130.5 L1198.6 1130.5 L1205.1 1130.4 L1211.7 1130.3 L1218.2 1130.2 L1224.8 1130.2 L1231.3 1130.1 L1237.9 1130.1 L1244.4 1130.1 L1251.0 1130.1 L1257.5 1130.0 L1264.1 1130.0 L1270.6 1130.0 L1277.2 1130.0 L1283.7 1130.0 L1290.3 1130.0 L1296.8 1130.0 L1303.4 1130.0 L1310.0 1130.0 L1316.5 1130.0 L1323.1 1130.0 L1329.6 1130.0 L1336.2 1130.0 L1342.7 1130.0 L1349.3 1130.0 L1355.8 1129.9 L1362.4 1129.9 L1368.9 1129.9 L1375.5 1129.9 L1382.0 1129.8 L1388.6 1129.8 L1395.1 1129.7 L1401.7 1129.6 L1408.2 1129.5 L1414.8 1129.5 L1421.3 1129.4 L1427.9 1129.2 L1434.4 1129.1 L1441.0 1129.0 L1447.5 1128.8 L1454.1 1128.6 L1460.6 1128.5 L1467.2 1128.3 L1473.8 1128.0 L1480.3 1127.8 L1486.9 1127.6 L1493.4 1127.3 L1500.0 1127.0 L1506.5 1126.7 L1513.1 1126.4 L1519.6 1126.0 L1526.2 1125.6 L1532.7 1125.2 L1539.3 1124.8 L1545.8 1124.4 L1552.4 1123.9 L1558.9 1123.4 L1565.5 1122.9 L1572.0 1122.3 L1578.6 1121.8 L1585.1 1121.2 L1591.7 1120.5 L1598.2 1119.9 L1604.8 1119.2 L1611.3 1118.5 L1617.9 1117.7 L1624.4 1116.9 L1631.0 1116.1" fill="none" stroke="#a27af2" stroke-width="2.7" stroke-linejoin="round" />
<path d="M975.8 1403.1 L982.4 1387.1 L988.9 1371.6 L995.5 1356.8 L1002.0 1342.7 L1008.6 1329.1 L1015.1 1316.1 L1021.7 1303.7 L1028.2 1291.9 L1034.8 1280.6 L1041.3 1269.8 L1047.9 1259.6 L1054.4 1249.9 L1061.0 1240.7 L1067.5 1231.9 L1074.1 1223.7 L1080.6 1215.9 L1087.2 1208.5 L1093.7 1201.6 L1100.3 1195.1 L1106.8 1189.0 L1113.4 1183.3 L1119.9 1178.0 L1126.5 1173.0 L1133.0 1168.4 L1139.6 1164.1 L1146.2 1160.2 L1152.7 1156.6 L1159.3 1153.3 L1165.8 1150.2 L1172.4 1147.5 L1178.9 1145.0 L1185.5 1142.7 L1192.0 1140.7 L1198.6 1138.9 L1205.1 1137.4 L1211.7 1136.0 L1218.2 1134.8 L1224.8 1133.8 L1231.3 1132.9 L1237.9 1132.2 L1244.4 1131.6 L1251.0 1131.1 L1257.5 1130.7 L1264.1 1130.5 L1270.6 1130.3 L1277.2 1130.1 L1283.7 1130.1 L1290.3 1130.0 L1296.8 1130.0 L1303.4 1130.0 L1310.0 1130.0 L1316.5 1130.0 L1323.1 1129.9 L1329.6 1129.9 L1336.2 1129.7 L1342.7 1129.5 L1349.3 1129.3 L1355.8 1128.9 L1362.4 1128.4 L1368.9 1127.8 L1375.5 1127.1 L1382.0 1126.2 L1388.6 1125.2 L1395.1 1124.0 L1401.7 1122.6 L1408.2 1121.1 L1414.8 1119.3 L1421.3 1117.3 L1427.9 1115.0 L1434.4 1112.5 L1441.0 1109.8 L1447.5 1106.7 L1454.1 1103.4 L1460.6 1099.8 L1467.2 1095.9 L1473.8 1091.6 L1480.3 1087.0 L1486.9 1082.0 L1493.4 1076.7 L1500.0 1071.0 L1506.5 1064.9 L1513.1 1058.4 L1519.6 1051.5 L1526.2 1044.1 L1532.7 1036.3 L1539.3 1028.1 L1545.8 1019.3 L1552.4 1010.1 L1558.9 1000.4 L1565.5 990.2 L1572.0 979.4 L1578.6 968.1 L1585.1 956.3 L1591.7 943.9 L1598.2 930.9 L1604.8 917.3 L1611.3 903.2 L1617.9 888.4 L1624.4 872.9 L1631.0 856.9" fill="none" stroke="#f01438" stroke-width="3.5" stroke-linejoin="round" />
<rect x="981" y="860.5" width="380" height="126" fill="#fff" stroke="#808080" stroke-width="1.9"/>
<line x1="983.5" y1="882.5" x2="1058.5" y2="882.5" stroke="#222222" stroke-width="5.0"/>
<text transform="translate(1067.3,894.0) scale(1.000,1.030)" font-size="32.7" text-anchor="start" fill="#111111" stroke="#111111" stroke-width="0.5">Dark</text>
<line x1="983.5" y1="924.0" x2="1058.5" y2="924.0" stroke="#b296f6" stroke-width="2.6"/>
<text transform="translate(1067.3,935.5) scale(1.000,1.030)" font-size="32.7" text-anchor="start" fill="#b296f6" stroke="#b296f6" stroke-width="0.5">254 nm illumination</text>
<line x1="983.5" y1="965.0" x2="1058.5" y2="965.0" stroke="#f01438" stroke-width="4.0"/>
<text transform="translate(1067.3,976.5) scale(1.000,1.030)" font-size="32.7" text-anchor="start" fill="#f01438" stroke="#f01438" stroke-width="0.5">Infrared illumination</text>
<rect x="1359.5" y="1170.5" width="290.5" height="236" fill="#fff" stroke="#8a8a8a" stroke-width="4.4"/>
<clipPath id="insclip"><rect x="1361" y="1172" width="287.5" height="233"/></clipPath>
<g clip-path="url(#insclip)">
<line x1="1372" y1="1289" x2="1637.5" y2="1287.5" stroke="#555" stroke-width="1.6"/>
<path d="M1372.0 1400.5 L1375.4 1392.3 L1378.7 1384.5 L1382.1 1377.1 L1385.4 1370.1 L1388.8 1363.4 L1392.1 1357.2 L1395.5 1351.3 L1398.8 1345.7 L1402.2 1340.5 L1405.5 1335.6 L1408.9 1331.1 L1412.3 1326.8 L1415.6 1322.9 L1419.0 1319.2 L1422.3 1315.8 L1425.7 1312.7 L1429.0 1309.8 L1432.4 1307.2 L1435.7 1304.8 L1439.1 1302.6 L1442.4 1300.6 L1445.8 1298.8 L1449.2 1297.3 L1452.5 1295.9 L1455.9 1294.6 L1459.2 1293.5 L1462.6 1292.6 L1465.9 1291.8 L1469.3 1291.2 L1472.6 1290.6 L1476.0 1290.2 L1479.3 1289.8 L1482.7 1289.5 L1486.1 1289.3 L1489.4 1289.2 L1492.8 1289.1 L1496.1 1289.0 L1499.5 1289.0 L1502.8 1289.0 L1506.2 1289.0 L1509.5 1289.0 L1512.9 1289.0 L1516.2 1288.9 L1519.6 1288.9 L1522.9 1288.7 L1526.3 1288.5 L1529.7 1288.3 L1533.0 1288.0 L1536.4 1287.5 L1539.7 1287.0 L1543.1 1286.4 L1546.4 1285.6 L1549.8 1284.7 L1553.1 1283.7 L1556.5 1282.5 L1559.8 1281.2 L1563.2 1279.7 L1566.6 1277.9 L1569.9 1276.0 L1573.3 1273.9 L1576.6 1271.6 L1580.0 1269.0 L1583.3 1266.2 L1586.7 1263.2 L1590.0 1259.9 L1593.4 1256.3 L1596.7 1252.4 L1600.1 1248.2 L1603.5 1243.8 L1606.8 1239.0 L1610.2 1233.9 L1613.5 1228.4 L1616.9 1222.6 L1620.2 1216.5 L1623.6 1210.0 L1626.9 1203.1 L1630.3 1195.8 L1633.6 1188.1 L1637.0 1180.0" fill="none" stroke="#b4acec" stroke-width="1.5" stroke-linejoin="round" />
<path d="M1448.0 1464.6 L1449.9 1447.7 L1451.7 1431.8 L1453.6 1417.1 L1455.5 1403.4 L1457.3 1390.7 L1459.2 1379.0 L1461.1 1368.2 L1462.9 1358.3 L1464.8 1349.3 L1466.6 1341.1 L1468.5 1333.7 L1470.4 1327.0 L1472.2 1321.0 L1474.1 1315.7 L1476.0 1311.0 L1477.8 1306.9 L1479.7 1303.4 L1481.6 1300.3 L1483.4 1297.7 L1485.3 1295.6 L1487.2 1293.8 L1489.0 1292.4 L1490.9 1291.3 L1492.7 1290.4 L1494.6 1289.8 L1496.5 1289.4 L1498.3 1289.2 L1500.2 1289.1 L1502.1 1289.0 L1503.9 1289.0 L1505.8 1289.0 L1507.7 1289.0 L1509.5 1288.8 L1511.4 1288.6 L1513.3 1288.2 L1515.1 1287.6 L1517.0 1286.8 L1518.8 1285.7 L1520.7 1284.3 L1522.6 1282.6 L1524.4 1280.5 L1526.3 1277.9 L1528.2 1274.9 L1530.0 1271.4 L1531.9 1267.3 L1533.8 1262.6 L1535.6 1257.4 L1537.5 1251.4 L1539.4 1244.8 L1541.2 1237.4 L1543.1 1229.3 L1544.9 1220.3 L1546.8 1210.5 L1548.7 1199.8 L1550.5 1188.2 L1552.4 1175.6 L1554.3 1162.0 L1556.1 1147.3 L1558.0 1131.5" fill="none" stroke="#ec7a8e" stroke-width="1.5" stroke-linejoin="round" />
</g>
<text transform="translate(1303.3,1556.0) scale(1.000,0.985)" font-size="49.9" text-anchor="middle" fill="#111111" stroke="#111111" stroke-width="0.5">Voltage (V)</text>
<text transform="translate(839.0,1105.0) rotate(-90) scale(1.000,0.985)" font-size="49.9" text-anchor="middle" fill="#111111" stroke="#111111" stroke-width="0.5">Current (nA)</text>
<text transform="translate(810.0,858.0) scale(1.000,1.030)" font-size="47" text-anchor="start" fill="#111111" stroke="#111111" stroke-width="0.5">d</text>
</g>
</g>
</svg>
</body></html>
